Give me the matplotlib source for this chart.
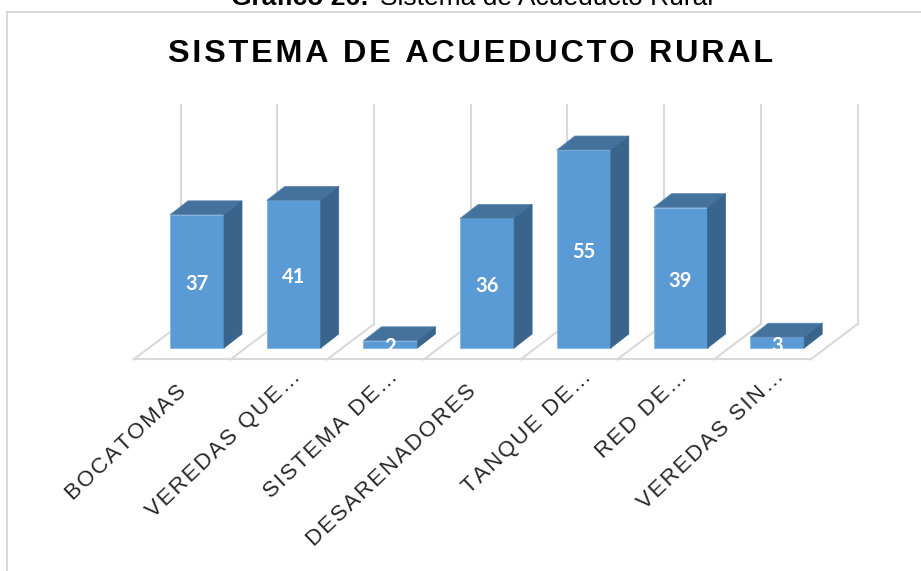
import matplotlib
matplotlib.use("Agg")
import matplotlib.pyplot as plt
import numpy as np
from matplotlib.patches import Polygon, Rectangle

# chart values
categories = ["BOCATOMAS", "VEREDAS QUE…", "SISTEMA DE…", "DESARENADORES",
              "TANQUE DE…", "RED DE…", "VEREDAS SIN…"]
values = [37, 41, 2, 36, 55, 39, 3]
chart_title = "SISTEMA DE ACUEDUCTO RURAL"
caption_bold = "Gráfico 26:"
caption_rest = "Sistema de Acueducto Rural"

HAIR = "\u200a"


def spaced(text, n=1):
    return (HAIR * n).join(text)


W, H = 921, 571
plt.rcParams["font.family"] = ["Liberation Sans", "DejaVu Sans"]

fig = plt.figure(figsize=(W / 100, H / 100), dpi=100)
ax = fig.add_axes([0, 0, 1, 1])

# 96.7 px per category, 3.6 px per unit, first bar centred on px 197, base on px 348
px_cat = 96.7
px_val = 3.6
ax.set_xlim(-197 / px_cat, (W - 197) / px_cat)
ax.set_ylim((348 - H) / px_val, 348 / px_val)
ax.axis("off")

bar_w = 54 / px_cat
dx = 18 / px_cat
dy = 14 / px_val
grid_col = "#d9d9d9"
x = np.arange(len(values))

# back wall and floor
top = (348 - 105) / px_val
back_y = (348 - 324) / px_val
front_y = (348 - 359.5) / px_val
edges = np.append(x, len(values)) - 0.5
back_off = 32 / px_cat
front_off = -15 / px_cat
for e in edges:
    ax.plot([e + back_off] * 2, [back_y, top], color=grid_col, lw=1.5, zorder=1)
    ax.plot([e + front_off, e + back_off], [front_y, back_y], color=grid_col, lw=1.5, zorder=1)
ax.plot([edges[0] + front_off, edges[-1] + front_off], [front_y, front_y], color=grid_col, lw=1.5, zorder=1)

# bars
for xi, v, name in zip(x, values, categories):
    l, r = xi - bar_w / 2, xi + bar_w / 2
    ax.add_patch(Polygon([(l, 0), (r, 0), (r, v), (l, v)], fc="#5b9bd5", ec="#7fb0de", lw=0.5, zorder=3))
    ax.add_patch(Polygon([(l, v), (r, v), (r + dx, v + dy), (l + dx, v + dy)], fc="#44729d", ec="#5d8ab3", lw=0.5, zorder=3))
    ax.add_patch(Polygon([(r, 0), (r + dx, dy), (r + dx, v + dy), (r, v)], fc="#39648b", ec="#39648b", lw=0.5, zorder=3))
    t = ax.text(xi, v / 2 - 3 / px_val, str(v), color="white", fontsize=14.5, fontweight="bold",
                family=["Lato", "DejaVu Sans"], ha="center", va="center", zorder=4)
    # numbers on the short bars get cut at the bar base
    t.set_clip_path(Rectangle((l, 0), bar_w, v + 2 * dy, transform=ax.transData))

    if name.endswith("…"):
        off = (-3, -18)
    else:
        off = (-21, -33)
    ax.annotate(spaced(name), (xi, 0), xytext=off, textcoords="offset pixels",
                rotation=43.5, rotation_mode="anchor", ha="right", va="top",
                fontsize=16, color="#262626", zorder=4)

# chart frame
x0, x1 = ax.get_xlim()
y0, y1 = ax.get_ylim()
frame_x = x0 + 6.5 / px_cat
frame_y = y1 - 12 / px_val
ax.plot([frame_x, frame_x], [y0, frame_y], color=grid_col, lw=1.5)
ax.plot([frame_x, x1], [frame_y, frame_y], color=grid_col, lw=1.5)

fig.text(470.5 / W, 1 - 62 / H, spaced(chart_title), fontsize=23.3, fontweight="bold", ha="center", va="baseline")

# caption above the chart, cut by the top of the page
fig.text(231 / W, 1 - 5 / H, caption_bold, fontsize=19, fontweight="bold", ha="left", va="baseline")
fig.text(380 / W, 1 - 5 / H, caption_rest, fontsize=19, ha="left", va="baseline")

fig.savefig("out.png", dpi=100)
